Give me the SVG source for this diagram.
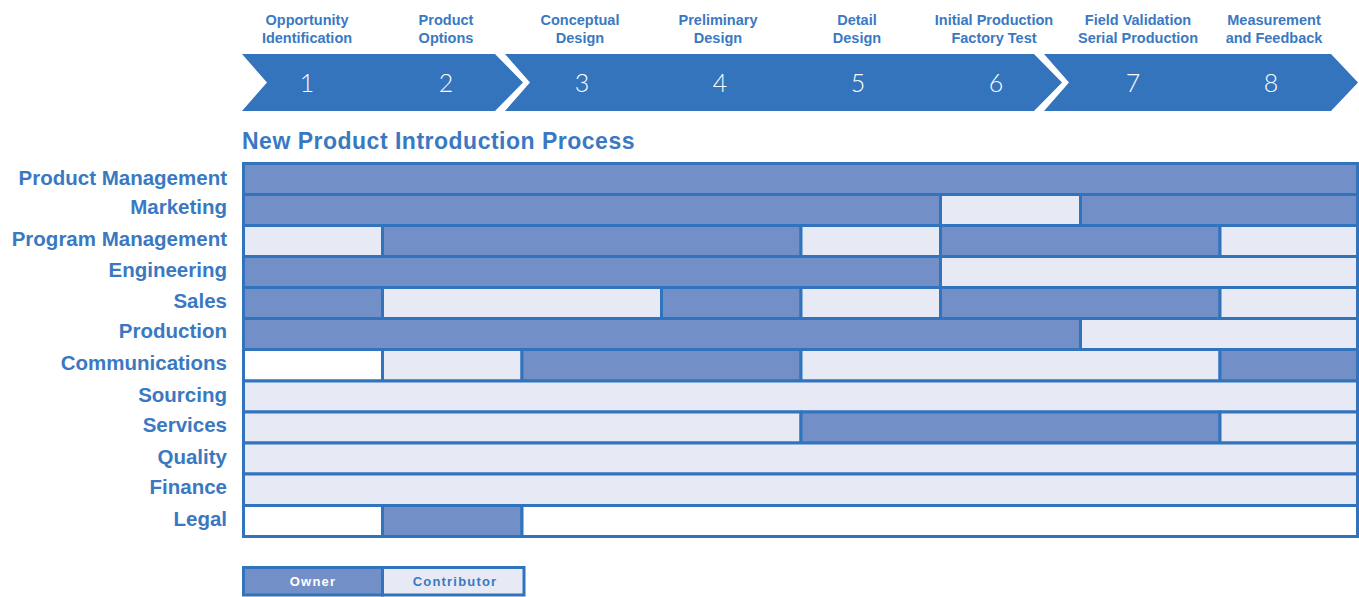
<svg xmlns="http://www.w3.org/2000/svg" width="1359" height="597" viewBox="0 0 1359 597">
<style>
.stage{font-family:"Liberation Sans",Arial,sans-serif;font-weight:bold;font-size:14.5px;fill:#3A79C2;text-anchor:middle}
.num{font-family:Lato,"Liberation Sans",sans-serif;font-weight:300;font-size:25px;fill:#FFFFFF;text-anchor:middle}
.chev{fill:#3374BC}
.title{font-family:"Liberation Sans",Arial,sans-serif;font-weight:bold;font-size:23px;fill:#3A79C2;letter-spacing:0.5px}
.lbl{font-family:"Liberation Sans",Arial,sans-serif;font-weight:bold;font-size:20.5px;fill:#3A79C2;text-anchor:end}
.o{fill:#7290C7;stroke:#3174BD;stroke-width:3}
.c{fill:#E7EAF5;stroke:#3174BD;stroke-width:3}
.w{fill:#FFFFFF;stroke:#3174BD;stroke-width:3}
.lg{font-family:"Liberation Sans",Arial,sans-serif;font-weight:bold;font-size:13px;letter-spacing:1.2px;text-anchor:middle}
</style>
<rect width="1359" height="597" fill="#FFFFFF"/>
<g id="chevrons">
<path class="chev" d="M242,54 L495,54 L523,82.5 L495,111 L242,111 L267,82.5 Z"/>
<path class="chev" d="M505,54 L1034,54 L1062,82.5 L1034,111 L505,111 L530,82.5 Z"/>
<path class="chev" d="M1044,54 L1331,54 L1358,82.5 L1331,111 L1044,111 L1069,82.5 Z"/>
</g>
<g id="stage1"><text class="stage" x="307" y="25">Opportunity</text><text class="stage" x="307" y="43">Identification</text><text class="num" x="307" y="92">1</text></g>
<g id="stage2"><text class="stage" x="446" y="25">Product</text><text class="stage" x="446" y="43">Options</text><text class="num" x="446" y="92">2</text></g>
<g id="stage3"><text class="stage" x="580" y="25">Conceptual</text><text class="stage" x="580" y="43">Design</text><text class="num" x="582" y="92">3</text></g>
<g id="stage4"><text class="stage" x="718" y="25">Preliminary</text><text class="stage" x="718" y="43">Design</text><text class="num" x="720" y="92">4</text></g>
<g id="stage5"><text class="stage" x="857" y="25">Detail</text><text class="stage" x="857" y="43">Design</text><text class="num" x="858" y="92">5</text></g>
<g id="stage6"><text class="stage" x="994" y="25">Initial Production</text><text class="stage" x="994" y="43">Factory Test</text><text class="num" x="996" y="92">6</text></g>
<g id="stage7"><text class="stage" x="1138" y="25">Field Validation</text><text class="stage" x="1138" y="43">Serial Production</text><text class="num" x="1133" y="92">7</text></g>
<g id="stage8"><text class="stage" x="1274" y="25">Measurement</text><text class="stage" x="1274" y="43">and Feedback</text><text class="num" x="1271" y="92">8</text></g>
<text id="title" class="title" x="242" y="149">New Product Introduction Process</text>
<g id="row-product-management"><text class="lbl" x="227" y="185">Product Management</text>
<rect class="o" x="243.5" y="163.5" width="1114" height="31"/></g>
<g id="row-marketing"><text class="lbl" x="227" y="214">Marketing</text>
<rect class="o" x="243.5" y="194.5" width="697" height="31"/><rect class="c" x="940.5" y="194.5" width="140" height="31"/><rect class="o" x="1080.5" y="194.5" width="277" height="31"/></g>
<g id="row-program-management"><text class="lbl" x="227" y="246">Program Management</text>
<rect class="c" x="243.5" y="225.5" width="139" height="31"/><rect class="o" x="382.5" y="225.5" width="418.5" height="31"/><rect class="c" x="801" y="225.5" width="139.5" height="31"/><rect class="o" x="940.5" y="225.5" width="279.5" height="31"/><rect class="c" x="1220" y="225.5" width="137.5" height="31"/></g>
<g id="row-engineering"><text class="lbl" x="227" y="277">Engineering</text>
<rect class="o" x="243.5" y="256.5" width="697" height="31"/><rect class="c" x="940.5" y="256.5" width="417" height="31"/></g>
<g id="row-sales"><text class="lbl" x="227" y="308">Sales</text>
<rect class="o" x="243.5" y="287.5" width="139" height="31"/><rect class="c" x="382.5" y="287.5" width="279" height="31"/><rect class="o" x="661.5" y="287.5" width="139.5" height="31"/><rect class="c" x="801" y="287.5" width="139.5" height="31"/><rect class="o" x="940.5" y="287.5" width="279.5" height="31"/><rect class="c" x="1220" y="287.5" width="137.5" height="31"/></g>
<g id="row-production"><text class="lbl" x="227" y="338">Production</text>
<rect class="o" x="243.5" y="318.5" width="837" height="31"/><rect class="c" x="1080.5" y="318.5" width="277" height="31"/></g>
<g id="row-communications"><text class="lbl" x="227" y="370">Communications</text>
<rect class="w" x="243.5" y="349.5" width="139" height="31.5"/><rect class="c" x="382.5" y="349.5" width="139.5" height="31.5"/><rect class="o" x="522" y="349.5" width="279" height="31.5"/><rect class="c" x="801" y="349.5" width="419" height="31.5"/><rect class="o" x="1220" y="349.5" width="137.5" height="31.5"/></g>
<g id="row-sourcing"><text class="lbl" x="227" y="402">Sourcing</text>
<rect class="c" x="243.5" y="381" width="1114" height="31"/></g>
<g id="row-services"><text class="lbl" x="227" y="432">Services</text>
<rect class="c" x="243.5" y="412" width="557.5" height="31"/><rect class="o" x="801" y="412" width="419" height="31"/><rect class="c" x="1220" y="412" width="137.5" height="31"/></g>
<g id="row-quality"><text class="lbl" x="227" y="464">Quality</text>
<rect class="c" x="243.5" y="443" width="1114" height="31"/></g>
<g id="row-finance"><text class="lbl" x="227" y="494">Finance</text>
<rect class="c" x="243.5" y="474" width="1114" height="31.5"/></g>
<g id="row-legal"><text class="lbl" x="227" y="526">Legal</text>
<rect class="w" x="243.5" y="505.5" width="139" height="31"/><rect class="o" x="382.5" y="505.5" width="139.5" height="31"/><rect class="w" x="522" y="505.5" width="835.5" height="31"/></g>
<g id="legend">
<rect class="o" x="243.5" y="567.5" width="139" height="27.5"/>
<rect class="c" x="382.5" y="567.5" width="141.5" height="27.5"/>
<text class="lg" x="313" y="586" fill="#FFFFFF">Owner</text>
<text class="lg" x="455" y="586" fill="#3A79C2">Contributor</text>
</g>
</svg>
